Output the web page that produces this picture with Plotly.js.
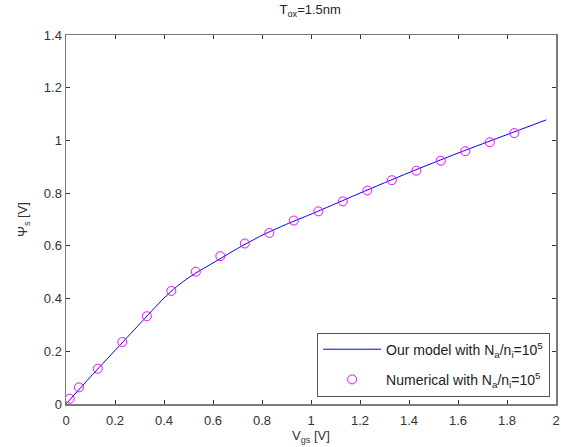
<!DOCTYPE html>
<html>
<head>
<meta charset="utf-8">
<script src="https://cdn.plot.ly/plotly-3.0.1.min.js"></script>
<style>html,body{margin:0;padding:0;background:#fff;}#chart{width:561px;height:447px;}</style>
</head>
<body>
<div id="chart"></div>
<script>
// Model curve
const modelVgs = [0, 0.1, 0.2, 0.3, 0.4, 0.45, 0.5, 0.55, 0.6, 0.7, 0.8, 0.9, 1.0, 1.2, 1.4, 1.6, 1.8, 1.96];
const modelPsi = [0, 0.103, 0.203, 0.303, 0.402, 0.444, 0.479, 0.508, 0.535, 0.59, 0.64, 0.682, 0.72, 0.8, 0.878, 0.952, 1.022, 1.078];
// Numerical points
const numVgs = [0.015, 0.053, 0.13, 0.23, 0.33, 0.43, 0.53, 0.63, 0.73, 0.83, 0.93, 1.03, 1.13, 1.23, 1.33, 1.43, 1.53, 1.63, 1.73, 1.83];
const numPsi = [0.02, 0.063, 0.134, 0.235, 0.333, 0.429, 0.502, 0.561, 0.609, 0.649, 0.696, 0.731, 0.769, 0.81, 0.849, 0.885, 0.923, 0.959, 0.993, 1.028];
const xTicks = [0, 0.2, 0.4, 0.6, 0.8, 1, 1.2, 1.4, 1.6, 1.8, 2];
const yTicks = [0, 0.2, 0.4, 0.6, 0.8, 1, 1.2, 1.4];

const font = 'Liberation Sans, Arial, sans-serif';
const traces = [
  {x: modelVgs, y: modelPsi, mode: 'lines', type: 'scatter', line: {color: '#0000ff', width: 1, shape: 'spline', smoothing: 0.6},
   legendgroup: 'a', name: 'Our model with N<sub>a</sub>/n<sub>i</sub>=10<sup>5</sup>'},
  {x: numVgs, y: numPsi, mode: 'markers', type: 'scatter',
   marker: {symbol: 'circle-open', color: '#ff00ff', size: 9, line: {width: 1, color: '#ff00ff'}},
   legendgroup: 'b', name: 'Numerical with N<sub>a</sub>/n<sub>i</sub>=10<sup>5</sup>'}
];
const axisCommon = {
  showgrid: false, zeroline: false, showline: true, linecolor: '#7a7a7a', linewidth: 1.5,
  mirror: 'ticks', ticks: 'inside', ticklen: 4, tickcolor: '#333', tickwidth: 1,
  tickfont: {family: font, size: 13, color: '#333'}
};
const layout = {
  width: 561, height: 447,
  margin: {l: 66, r: 5, t: 35, b: 43},
  paper_bgcolor: '#fff', plot_bgcolor: '#fff',
  font: {family: font, size: 13, color: '#333'},
  title: {text: 'T<sub>ox</sub>=1.5nm', font: {family: font, size: 13, color: '#222'}, x: 0.553, xanchor: 'center', y: 0.988, yanchor: 'top'},
  xaxis: Object.assign({}, axisCommon, {range: [0, 2], tickvals: xTicks, ticktext: xTicks.map(String), ticklabelstandoff: 4,
    title: {text: 'V<sub>gs</sub> [V]', font: {family: font, size: 13, color: '#333'}, standoff: 0}}),
  yaxis: Object.assign({}, axisCommon, {range: [0, 1.4], tickvals: yTicks, ticktext: yTicks.map(String),
    title: {text: 'Ψ<sub>s</sub> [V]', font: {family: font, size: 13, color: '#333'}, standoff: 13}}),
  showlegend: true,
  legend: {x: 0.988, y: 0.02, xanchor: 'right', yanchor: 'bottom', bordercolor: '#555', borderwidth: 1,
    bgcolor: '#fff', font: {family: font, size: 14, color: '#222'}, traceorder: 'grouped', tracegroupgap: 9, itemwidth: 58}
};
Plotly.newPlot('chart', traces, layout, {staticPlot: true, displayModeBar: false});
</script>
</body>
</html>
